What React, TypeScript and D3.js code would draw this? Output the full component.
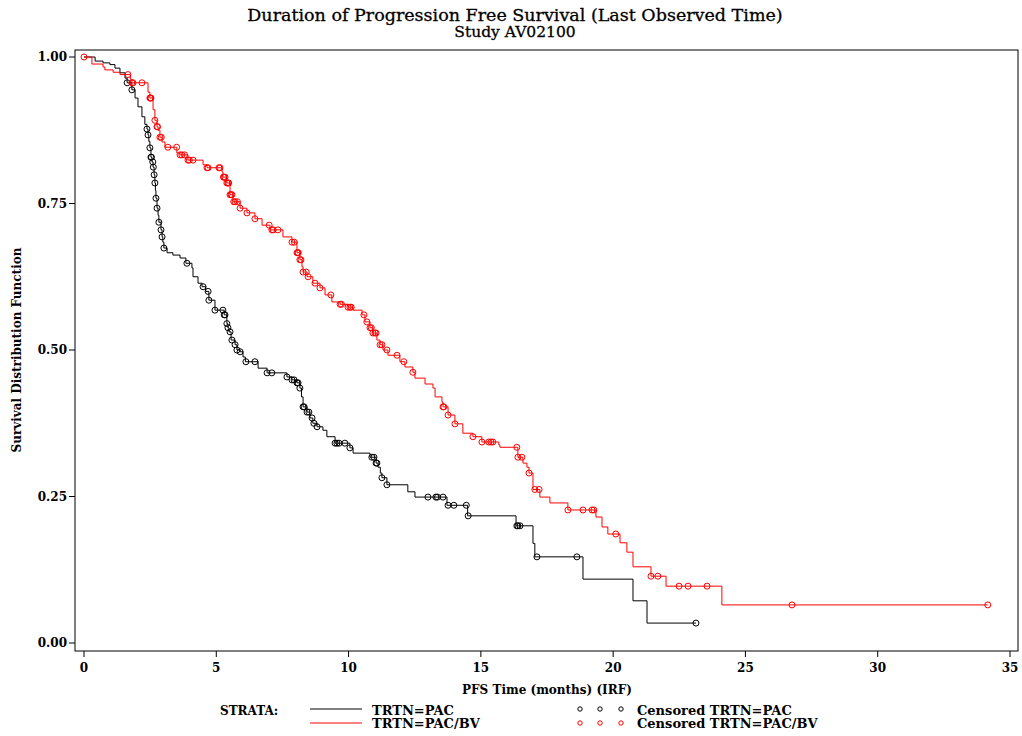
import React from "react";
import * as d3 from "d3";

// ---------- Data ----------
const xTicks = [0, 5, 10, 15, 20, 25, 30, 35];
const yTicks = [0, 0.25, 0.5, 0.75, 1.0];
const yTickLabels = ["0.00", "0.25", "0.50", "0.75", "1.00"];

// PAC arm: event times and survival after each step
const pacStepTimes = [0.42, 0.72, 0.98, 1.17, 1.36, 1.55, 1.63, 1.81, 1.93, 2.04, 2.19, 2.3, 2.38, 2.42, 2.45, 2.49, 2.53, 2.57, 2.61, 2.65, 2.68, 2.7, 2.72, 2.76, 2.8, 2.83, 2.91, 2.95, 2.98, 3.02, 3.14, 3.36, 3.63, 3.85, 4.08, 4.12, 4.31, 4.46, 4.6, 4.72, 4.95, 5.3, 5.4, 5.44, 5.48, 5.56, 5.71, 5.78, 5.9, 6.01, 6.1, 6.58, 6.92, 7.67, 7.86, 8.05, 8.16, 8.22, 8.28, 8.43, 8.54, 8.65, 8.81, 9.03, 9.18, 9.49, 10.05, 10.17, 10.81, 11.04, 11.11, 11.2, 11.26, 11.45, 12.24, 12.51, 13.72, 14.5, 16.33, 16.97, 17.04, 18.86, 20.75, 21.28];
const pacStepSurv = [0.993, 0.99, 0.987, 0.981, 0.973, 0.964, 0.956, 0.944, 0.93, 0.915, 0.898, 0.885, 0.877, 0.867, 0.856, 0.845, 0.829, 0.821, 0.812, 0.799, 0.785, 0.772, 0.759, 0.742, 0.73, 0.718, 0.705, 0.693, 0.684, 0.674, 0.666, 0.662, 0.657, 0.648, 0.64, 0.625, 0.614, 0.608, 0.6, 0.585, 0.568, 0.56, 0.545, 0.538, 0.531, 0.517, 0.509, 0.5, 0.497, 0.488, 0.48, 0.469, 0.461, 0.454, 0.449, 0.444, 0.435, 0.42, 0.403, 0.394, 0.384, 0.375, 0.369, 0.363, 0.352, 0.341, 0.333, 0.324, 0.317, 0.307, 0.3, 0.29, 0.282, 0.27, 0.258, 0.249, 0.235, 0.217, 0.2, 0.17, 0.147, 0.109, 0.072, 0.034];
const pacCensorTimes = [1.63, 1.81, 2.38, 2.42, 2.49, 2.53, 2.55, 2.6, 2.62, 2.65, 2.68, 2.72, 2.76, 2.83, 2.91, 2.95, 3.02, 3.89, 4.5, 4.69, 4.72, 4.95, 5.25, 5.3, 5.33, 5.4, 5.44, 5.52, 5.59, 5.71, 5.78, 5.9, 6.12, 6.46, 6.92, 7.1, 7.67, 7.86, 7.94, 8.05, 8.09, 8.16, 8.28, 8.32, 8.43, 8.5, 8.62, 8.69, 8.81, 9.49, 9.56, 9.64, 9.86, 10.05, 10.88, 10.96, 11.04, 11.07, 11.26, 11.45, 13.0, 13.3, 13.36, 13.57, 13.76, 13.98, 14.45, 14.52, 16.36, 16.4, 16.48, 17.12, 18.63, 23.13];

// PAC/BV arm
const bvStepTimes = [0.3, 0.72, 0.79, 1.1, 1.36, 1.75, 1.81, 2.42, 2.49, 2.61, 2.68, 2.76, 2.8, 2.87, 2.95, 3.06, 3.51, 3.63, 3.93, 4.5, 4.65, 5.22, 5.25, 5.4, 5.52, 5.63, 5.9, 6.16, 6.46, 6.73, 7.03, 7.52, 7.86, 8.05, 8.16, 8.24, 8.28, 8.43, 8.65, 8.92, 9.11, 9.37, 9.68, 9.98, 10.17, 10.51, 10.62, 10.81, 10.92, 11.07, 11.19, 11.3, 11.49, 11.94, 12.13, 12.43, 12.51, 12.89, 13.19, 13.27, 13.53, 13.57, 13.76, 14.02, 14.32, 14.7, 15.04, 15.68, 15.72, 16.4, 16.59, 16.74, 16.82, 16.97, 17.23, 17.61, 18.29, 19.35, 19.58, 19.8, 20.26, 20.52, 20.75, 21.43, 22.0, 24.11];
const bvStepSurv = [0.988, 0.983, 0.978, 0.974, 0.97, 0.962, 0.956, 0.94, 0.93, 0.91, 0.892, 0.881, 0.875, 0.863, 0.855, 0.846, 0.836, 0.833, 0.824, 0.816, 0.811, 0.804, 0.795, 0.785, 0.765, 0.753, 0.742, 0.734, 0.724, 0.713, 0.705, 0.693, 0.684, 0.666, 0.654, 0.642, 0.633, 0.625, 0.614, 0.606, 0.594, 0.582, 0.578, 0.573, 0.568, 0.56, 0.548, 0.538, 0.529, 0.517, 0.509, 0.5, 0.491, 0.48, 0.471, 0.462, 0.452, 0.442, 0.435, 0.42, 0.411, 0.403, 0.389, 0.374, 0.358, 0.352, 0.343, 0.338, 0.334, 0.317, 0.307, 0.3, 0.29, 0.262, 0.249, 0.239, 0.227, 0.215, 0.198, 0.186, 0.171, 0.155, 0.13, 0.114, 0.097, 0.065];
const bvCensorTimes = [0, 1.66, 1.81, 1.85, 2.19, 2.49, 2.51, 2.53, 2.68, 2.76, 2.78, 2.87, 2.92, 3.17, 3.5, 3.63, 3.7, 3.8, 3.93, 3.98, 4.12, 4.65, 4.69, 5.1, 5.14, 5.27, 5.29, 5.33, 5.4, 5.44, 5.47, 5.52, 5.56, 5.59, 5.66, 5.71, 5.8, 5.9, 6.16, 6.46, 7.0, 7.1, 7.15, 7.33, 7.86, 7.95, 8.05, 8.08, 8.1, 8.16, 8.2, 8.28, 8.4, 8.47, 8.73, 8.92, 9.33, 9.68, 9.73, 9.98, 10.05, 10.1, 10.58, 10.69, 10.81, 10.86, 10.92, 11.0, 11.04, 11.19, 11.26, 11.45, 11.83, 12.09, 12.43, 13.57, 13.6, 13.76, 14.02, 14.7, 15.04, 15.3, 15.38, 15.45, 16.36, 16.4, 16.55, 16.82, 17.04, 17.2, 18.29, 18.86, 19.2, 19.27, 20.1, 21.43, 21.69, 22.49, 22.83, 23.55, 26.76, 34.16];

const FONT = "'DejaVu Serif', serif";

function survAt(times: number[], surv: number[], t: number) {
  let s = 1;
  for (let i = 0; i < times.length; i++) {
    if (times[i] <= t) s = surv[i];
    else break;
  }
  return s;
}

function stepPoints(times: number[], surv: number[], end: number): [number, number][] {
  const pts: [number, number][] = [[0, 1]];
  times.forEach((t, i) => pts.push([t, surv[i]]));
  pts.push([end, surv[surv.length - 1]]);
  return pts;
}

export default function App() {
  const x = d3.scaleLinear().domain([0, 35]).range([84, 1010]);
  const y = d3.scaleLinear().domain([0, 1]).range([643, 57]);
  const line = d3
    .line<[number, number]>()
    .x((d) => x(d[0]))
    .y((d) => y(d[1]))
    .curve(d3.curveStepAfter);

  const pacEnd = d3.max(pacCensorTimes) as number;
  const bvEnd = d3.max(bvCensorTimes) as number;
  const pacPath = line(stepPoints(pacStepTimes, pacStepSurv, pacEnd)) || "";
  const bvPath = line(stepPoints(bvStepTimes, bvStepSurv, bvEnd)) || "";

  const left = 75, right = 1018, top = 50, bottom = 651;

  return (
    <svg
      width={1022}
      height={736}
      style={{ position: "absolute", left: 0, top: 0, background: "#fff" }}
      fontFamily={FONT}
    >
      <rect x={0} y={0} width={1022} height={736} fill="#fff" />
      {/* Titles */}
      <text x={515} y={21} textAnchor="middle" fontSize={17.5} fill="#000" stroke="#000" strokeWidth={0.3}>
        Duration of Progression Free Survival (Last Observed Time)
      </text>
      <text x={515} y={37} textAnchor="middle" fontSize={15.5} fill="#000" stroke="#000" strokeWidth={0.3}>
        Study AV02100
      </text>

      {/* Frame */}
      <rect x={left} y={top} width={right - left} height={bottom - top} fill="none" stroke="#000" strokeWidth={1} />

      {/* Y axis ticks */}
      {yTicks.map((v, i) => (
        <g key={"y" + i}>
          <line x1={left - 6} x2={left} y1={y(v)} y2={y(v)} stroke="#000" />
          <text x={left - 8} y={y(v) + 4} textAnchor="end" fontSize={12} fontWeight="bold" fill="#000">
            {yTickLabels[i]}
          </text>
        </g>
      ))}
      {/* X axis ticks */}
      {xTicks.map((v) => (
        <g key={"x" + v}>
          <line x1={x(v)} x2={x(v)} y1={bottom} y2={bottom + 6} stroke="#000" />
          <text x={x(v)} y={bottom + 21} textAnchor="middle" fontSize={12} fontWeight="bold" fill="#000">
            {v}
          </text>
        </g>
      ))}

      {/* Axis labels */}
      <text x={547} y={694} textAnchor="middle" fontSize={12} fontWeight="bold" fill="#000">
        PFS Time (months) (IRF)
      </text>
      <text
        transform={`translate(21,350) rotate(-90)`}
        textAnchor="middle"
        fontSize={12}
        fontWeight="bold"
        fill="#000"
      >
        Survival Distribution Function
      </text>

      {/* Curves */}
      <path d={pacPath} fill="none" stroke="#000" strokeWidth={1} />
      <path d={bvPath} fill="none" stroke="#ff0000" strokeWidth={1} />

      {/* Censor marks */}
      {pacCensorTimes.map((t, i) => (
        <circle key={"pc" + i} cx={x(t)} cy={y(survAt(pacStepTimes, pacStepSurv, t))} r={3} fill="none" stroke="#000" strokeWidth={1} />
      ))}
      {bvCensorTimes.map((t, i) => (
        <circle key={"bc" + i} cx={x(t)} cy={y(survAt(bvStepTimes, bvStepSurv, t))} r={3} fill="none" stroke="#ff0000" strokeWidth={1} />
      ))}

      {/* Legend */}
      <text x={220} y={715} fontSize={12} fontWeight="bold" fill="#000">STRATA:</text>
      <line x1={310} x2={362} y1={709} y2={709} stroke="#000" />
      <line x1={310} x2={362} y1={723} y2={723} stroke="#ff0000" />
      <text x={372} y={715} fontSize={13} fontWeight="bold" fill="#000">TRTN=PAC</text>
      <text x={372} y={728} fontSize={13} fontWeight="bold" fill="#000">TRTN=PAC/BV</text>
      {[580, 600, 621].map((cx) => (
        <circle key={"lk" + cx} cx={cx} cy={709} r={2.2} fill="none" stroke="#000" />
      ))}
      {[580, 600, 621].map((cx) => (
        <circle key={"lr" + cx} cx={cx} cy={723} r={2.2} fill="none" stroke="#ff0000" />
      ))}
      <text x={637} y={715} fontSize={13} fontWeight="bold" fill="#000">Censored TRTN=PAC</text>
      <text x={637} y={728} fontSize={13} fontWeight="bold" fill="#000">Censored TRTN=PAC/BV</text>
    </svg>
  );
}
